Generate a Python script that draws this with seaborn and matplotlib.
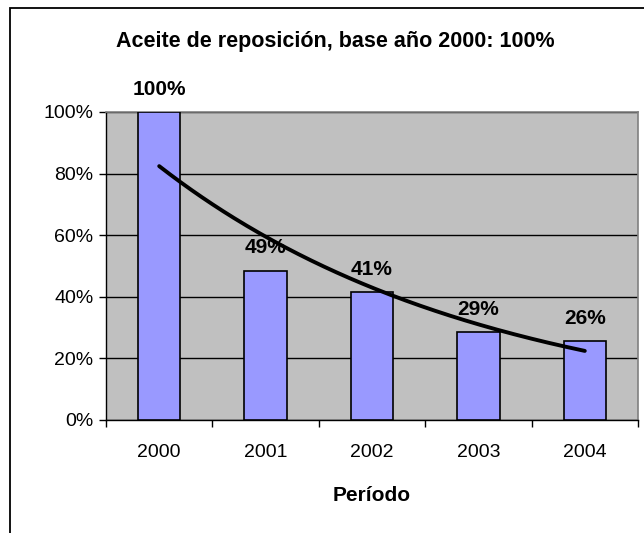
import numpy as np
import pandas as pd
import matplotlib
matplotlib.use("Agg")
import matplotlib.pyplot as plt
import matplotlib.patches as mpatches
import seaborn as sns

# Data
years = ["2000", "2001", "2002", "2003", "2004"]
values = [1.00, 0.485, 0.414, 0.286, 0.256]
value_labels = ["100%", "49%", "41%", "29%", "26%"]
yticks = [0.0, 0.2, 0.4, 0.6, 0.8, 1.0]
ytick_labels = ["0%", "20%", "40%", "60%", "80%", "100%"]
title = "Aceite de reposición, base año 2000: 100%"
xlabel = "Período"

sns.set_style("white")
plt.rcParams["font.family"] = ["Liberation Sans", "DejaVu Sans"]
plt.rcParams["text.color"] = "black"
plt.rcParams["xtick.labelcolor"] = "black"
plt.rcParams["ytick.labelcolor"] = "black"
plt.rcParams["axes.labelcolor"] = "black"

fig = plt.figure(figsize=(6.44, 5.33), dpi=100)
ax = fig.add_axes([106/644, 1-420/533, (638-106)/644, (420-112)/533])
ax.set_facecolor("#C0C0C0")

df = pd.DataFrame({"year": years, "value": values})
sns.barplot(data=df, x="year", y="value", color="#9999FF", saturation=1,
            width=0.4, edgecolor="black", linewidth=1.2, ax=ax, zorder=3)

# Exponential trendline (least squares fit in log space, like Excel)
xs = np.arange(1, len(values) + 1)
b, lna = np.polyfit(xs, np.log(values), 1)
xd = np.linspace(1, len(values), 200)
ax.plot(xd - 1, np.exp(lna + b * xd), color="black", lw=2.8, zorder=4,
        solid_capstyle="round")

# value labels
for i, (v, lab) in enumerate(zip(values, value_labels)):
    ax.annotate(lab, (i, v), xytext=(0, 9.5), textcoords="offset points",
                ha="center", va="bottom", fontsize=15, fontweight="bold",
                color="black", annotation_clip=False, zorder=5)

ax.set_ylim(0, 1.0)
ax.set_xlim(-0.5, len(years) - 0.5)
ax.set_yticks(yticks)
ax.set_yticklabels(ytick_labels, fontsize=14)
ax.yaxis.grid(True, color="black", lw=1.0)
ax.set_axisbelow(True)
ax.tick_params(axis="y", length=5, width=1, color="black", pad=4, left=True)
ax.set_xticks(range(len(years)))
ax.set_xticklabels(years, fontsize=14)
ax.set_xticks(np.arange(-0.5, len(years), 1.0), minor=True)
ax.tick_params(axis="x", which="major", length=0, pad=17)
ax.tick_params(axis="x", which="minor", length=5, width=1, color="black", bottom=True)

for s in ["top", "right"]:
    ax.spines[s].set_color("#808080")
    ax.spines[s].set_linewidth(1.2)
for s in ["left", "bottom"]:
    ax.spines[s].set_color("black")
    ax.spines[s].set_linewidth(1.0)

ax.set_ylabel("")
ax.set_xlabel(xlabel, fontsize=15, fontweight="bold", labelpad=18)

fig.text(335/644, 1-41/533, title, ha="center", va="center",
         fontsize=15.5, fontweight="bold")

# outer chart frame (cropped at right and bottom)
fig.add_artist(mpatches.Rectangle((10/644, -0.1), 1.2, (1-8/533) + 0.1,
                                  transform=fig.transFigure, fill=False,
                                  edgecolor="black", lw=1.3))

fig.savefig("out.png", dpi=100)
